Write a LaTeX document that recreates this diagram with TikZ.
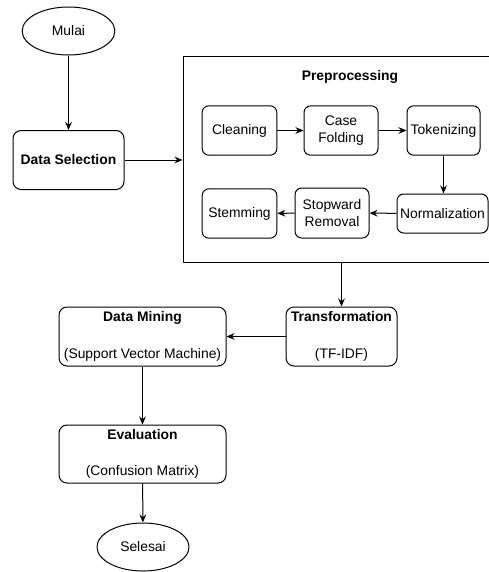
\documentclass[tikz,border=0pt]{standalone}
\usepackage{fontspec}
\setmainfont{Liberation Sans}
\usetikzlibrary{arrows.meta,shapes.geometric}

\begin{document}
\begin{tikzpicture}[x=0.75pt,y=-0.75pt,>={Stealth[length=6pt,width=5pt]},line join=round,line width=0.75pt,
    font=\fontsize{10.4}{13.3}\selectfont,
    term/.style={draw,ellipse,inner sep=0pt,minimum width=69.5pt,minimum height=36pt},
    stage/.style={draw,rounded corners=6pt,align=center,inner sep=0pt,minimum height=44.25pt},
    proc/.style={draw,rounded corners=5pt,align=center,inner sep=0pt,minimum width=56pt,minimum height=37pt}]
    \useasboundingbox (0,0) rectangle (489,572);
    \clip (0,0) rectangle (489,572);
    % main line
    \node[term] (mulai) at (68.5,31) {Mulai};
    \node[stage,minimum width=83.25pt] (sel) at (68.5,160) {\textbf{Data Selection}};
    % preprocessing frame (runs past the right edge)
    \node[draw,inner sep=0pt,minimum width=250.5pt,minimum height=154.5pt] (prep) at (350,159) {};
    \node (preptitle) at (350,77) {\textbf{Preprocessing}};
    \node[proc] (clean) at (239.5,130.5) {Cleaning};
    \node[proc,minimum width=55.5pt] (fold) at (341,130.5) {Case\\Folding};
    \node[proc,minimum width=54.75pt] (tok) at (443.5,130.5) {Tokenizing};
    \node[proc,minimum width=68.25pt,minimum height=29.25pt] (norm) at (442.5,213.5) {Normalization};
    \node[proc,minimum width=55.5pt,minimum height=37.5pt] (stop) at (332,213) {Stopward\\Removal};
    \node[proc] (stem) at (239.5,213.5) {Stemming};
    % lower part
    \node[stage,minimum width=83.25pt] (trans) at (341.5,336.5) {\textbf{Transformation}\\[14.4pt](TF-IDF)};
    \node[stage,minimum width=125.25pt] (mine) at (142.5,336.5) {\textbf{Data Mining}\\[14.4pt](Support Vector Machine)};
    \node[stage,minimum width=125.25pt,minimum height=43.5pt] (eval) at (142.5,454) {\textbf{Evaluation}\\[13.8pt](Confusion Matrix)};
    \node[term,minimum width=69pt] (selesai) at (143,547) {Selesai};
    % arrows
    \draw[->] (mulai) -- (sel);
    \draw[->] (sel) -- (prep.west |- sel);
    \draw[->] (clean) -- (fold);
    \draw[->] (fold) -- (tok);
    \draw[->] (tok.south) -- (tok.south |- norm.north);
    \draw[->] (norm) -- (stop);
    \draw[->] (stop) -- (stem);
    \draw[->] (prep.south -| trans) -- (trans);
    \draw[->] (trans) -- (mine);
    \draw[->] (mine) -- (eval);
    \draw[->] (eval) -- (selesai);
\end{tikzpicture}
\end{document}
